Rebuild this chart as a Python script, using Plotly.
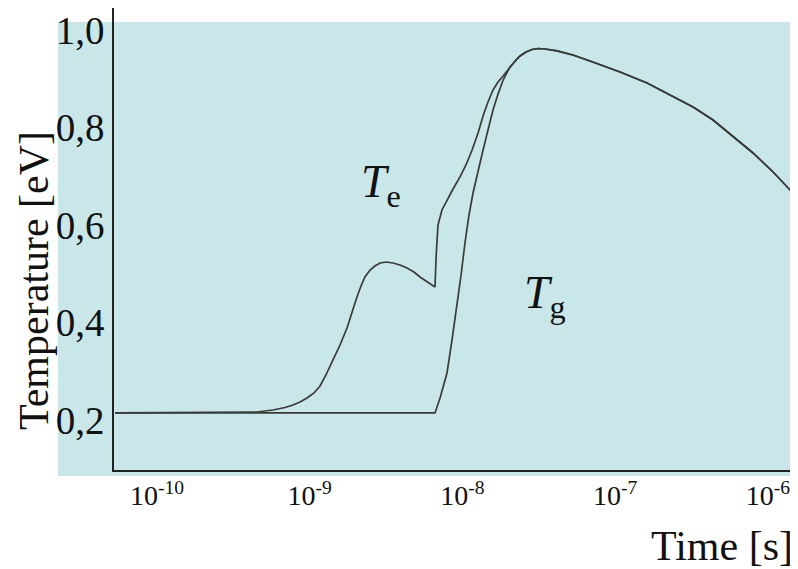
import plotly.graph_objects as go

# ---- data ----
te_time = [4.85e-11, 4.13e-10, 5.25e-10, 6.30e-10, 7.10e-10, 7.89e-10, 8.77e-10, 9.75e-10,
           1.067e-9, 1.167e-9, 1.297e-9, 1.443e-9, 1.603e-9, 1.728e-9, 1.862e-9, 1.98e-9,
           2.10e-9, 2.27e-9, 2.44e-9, 2.64e-9, 2.89e-9, 3.21e-9, 3.56e-9, 3.96e-9,
           4.40e-9, 4.82e-9, 5.28e-9, 5.78e-9, 6.04e-9, 6.14e-9, 6.32e-9, 6.71e-9,
           7.24e-9, 7.93e-9, 8.81e-9, 9.64e-9, 1.057e-8, 1.156e-8, 1.247e-8, 1.343e-8,
           1.449e-8, 1.563e-8, 1.687e-8,
           1.871e-8, 2.02e-8, 2.178e-8, 2.38e-8, 2.612e-8, 2.86e-8, 3.18e-8, 3.80e-8,
           4.84e-8, 6.55e-8, 9.84e-8, 1.479e-7, 2.188e-7, 2.958e-7, 4.0e-7, 5.41e-7,
           7.31e-7, 9.89e-7, 1.315e-6]
te_temp = [0.2144, 0.2164, 0.2205, 0.2256, 0.2308, 0.2369, 0.2451, 0.2554,
           0.2697, 0.2923, 0.3231, 0.3538, 0.3887, 0.4215, 0.4523, 0.4749,
           0.4933, 0.5077, 0.5159, 0.5221, 0.5241, 0.5221, 0.5179, 0.5118,
           0.5036, 0.4933, 0.4851, 0.4769, 0.4728, 0.5344, 0.600, 0.6308,
           0.6513, 0.6738, 0.6985, 0.7231, 0.7538, 0.7887, 0.8236, 0.8523,
           0.8769, 0.8933, 0.9056,
           0.9241, 0.9364, 0.9467, 0.9549, 0.960, 0.962, 0.961, 0.957,
           0.9487, 0.9344, 0.9138, 0.8913, 0.8626, 0.8421, 0.8154, 0.7805,
           0.7477, 0.7087, 0.6677]

tg_time = [4.85e-11, 6.04e-9, 6.52e-9, 7.24e-9, 7.81e-9, 8.41e-9, 8.95e-9, 9.51e-9,
           1.009e-8, 1.072e-8, 1.156e-8, 1.247e-8, 1.343e-8, 1.449e-8, 1.563e-8, 1.687e-8,
           1.871e-8, 2.02e-8, 2.178e-8, 2.38e-8, 2.612e-8, 2.86e-8, 3.18e-8, 3.80e-8,
           4.84e-8, 6.55e-8, 9.84e-8, 1.479e-7, 2.188e-7, 2.958e-7, 4.0e-7, 5.41e-7,
           7.31e-7, 9.89e-7, 1.315e-6]
tg_temp = [0.2144, 0.2144, 0.2451, 0.2964, 0.3641, 0.4318, 0.4974, 0.5651,
           0.6205, 0.6656, 0.7128, 0.7538, 0.7949, 0.8359, 0.8687, 0.8974,
           0.9241, 0.9364, 0.9467, 0.9549, 0.960, 0.962, 0.961, 0.957,
           0.9487, 0.9344, 0.9138, 0.8913, 0.8626, 0.8421, 0.8154, 0.7805,
           0.7477, 0.7087, 0.6677]

x_tickvals = [1e-10, 1e-9, 1e-8, 1e-7, 1e-6]
x_ticktext = ["10<sup>-10</sup>", "10<sup>-9</sup>", "10<sup>-8</sup>", "10<sup>-7</sup>", "10<sup>-6</sup>"]
y_tickvals = [0.2, 0.4, 0.6, 0.8, 1.0]
y_ticktext = ["0,2", "0,4", "0,6", "0,8", "1,0"]

SERIF = "Liberation Serif, Times New Roman, serif"
LINE = "#3a3a3a"
CYAN = "#c9e7e8"

fig = go.Figure()
fig.add_trace(go.Scatter(x=te_time, y=te_temp, mode="lines",
                         line=dict(color=LINE, width=1.7), name="Te", showlegend=False))
fig.add_trace(go.Scatter(x=tg_time, y=tg_temp, mode="lines",
                         line=dict(color=LINE, width=1.7), name="Tg", showlegend=False))

# The page body has an 8px margin, so the figure is drawn 8px right/down.
OFF = 8
W, H = 798 - OFF, 569 - OFF
L, R, T, B = 106, 6, 0, 99
pw, ph = W - L - R, H - T - B

def px(xp):  # page pixel -> paper
    return (xp - OFF - L) / pw

def py(yp):
    return (H - B - (yp - OFF)) / ph

fig.add_shape(type="rect", xref="paper", yref="paper",
              x0=px(58), x1=px(800), y0=py(476), y1=py(22),
              fillcolor=CYAN, line=dict(width=0), layer="below")

ann = dict(xref="paper", yref="paper", showarrow=False, xanchor="center", yanchor="middle")
fig.add_annotation(text="<i>T</i><sub>e</sub>", x=px(381), y=py(185),
                   font=dict(family=SERIF, size=46, color="#111"), **ann)
fig.add_annotation(text="<i>T</i><sub>g</sub>", x=px(545), y=py(296),
                   font=dict(family=SERIF, size=46, color="#111"), **ann)
fig.add_annotation(text="Temperature [eV]", x=px(34), y=py(281), textangle=-90,
                   font=dict(family=SERIF, size=42, color="#111"), **ann)
fig.add_annotation(text="Time [s]", x=px(722), y=py(546),
                   font=dict(family=SERIF, size=42, color="#111"), **ann)

fig.update_layout(
    width=W, height=H,
    margin=dict(l=L, r=R, t=T, b=B, autoexpand=False),
    paper_bgcolor="white", plot_bgcolor="rgba(0,0,0,0)",
    showlegend=False,
    xaxis=dict(type="log", range=[-10.321, -5.881], tickvals=x_tickvals, ticktext=x_ticktext,
               automargin=False, ticklabelshift=-6,
               showgrid=False, zeroline=False, showline=True, linecolor="#222", linewidth=1.5,
               ticks="", tickfont=dict(family=SERIF, size=28, color="#111")),
    yaxis=dict(range=[0.0974, 1.0451], tickvals=y_tickvals, ticktext=y_ticktext,
               automargin=False,
               showgrid=False, zeroline=False, showline=True, linecolor="#222", linewidth=1.5,
               ticks="", tickfont=dict(family=SERIF, size=39, color="#111")),
)

fig.write_html("out.html")
